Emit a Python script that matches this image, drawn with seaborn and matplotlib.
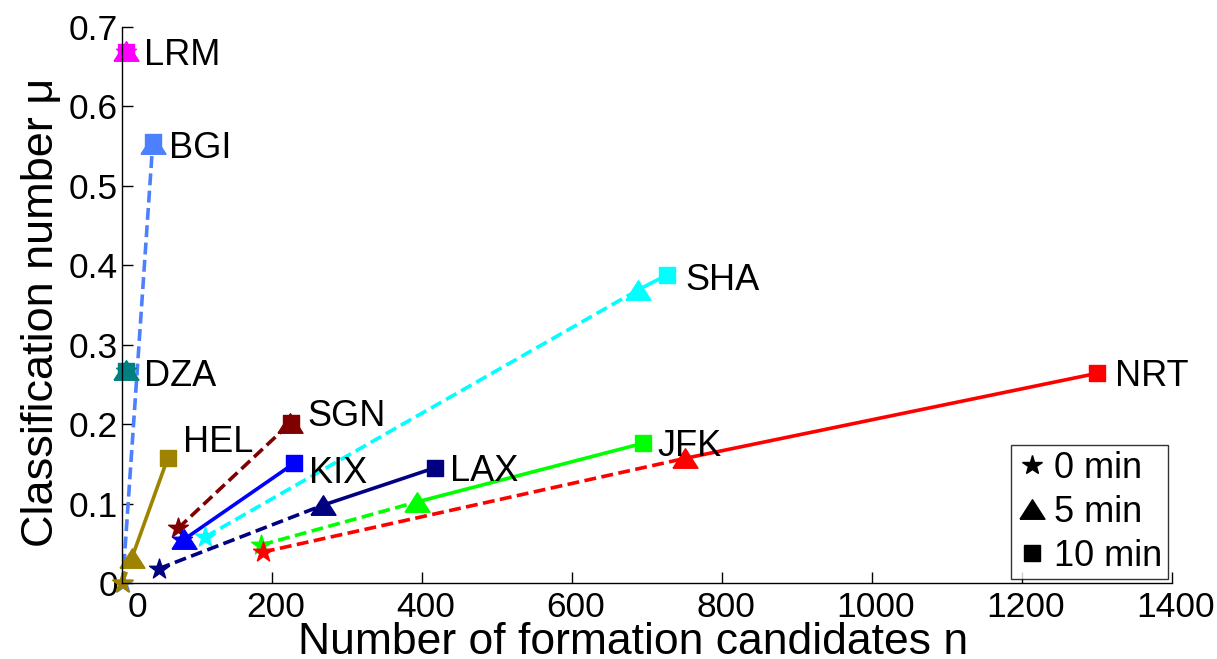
import numpy as np
import pandas as pd
import matplotlib
matplotlib.use('Agg')
import matplotlib.pyplot as plt
import matplotlib.transforms as mtransforms
from matplotlib.lines import Line2D
import seaborn as sns

# values
airports = ['LRM', 'BGI', 'DZA', 'HEL', 'SGN', 'KIX', 'SHA', 'LAX', 'JFK', 'NRT']
n_0min = [5, 1, 6, 0, 75, 80, 111, 49, 186, 188]
n_5min = [6, 41, 6, 13, 224, 83, 688, 268, 393, 751]
n_10min = [6, 41, 6, 61, 225, 230, 727, 417, 695, 1300]
mu_0min = [0.668, 0.0, 0.267, 0.0, 0.069, 0.054, 0.058, 0.018, 0.048, 0.039]
mu_5min = [0.670, 0.553, 0.268, 0.031, 0.201, 0.055, 0.369, 0.098, 0.102, 0.157]
mu_10min = [0.669, 0.555, 0.267, 0.157, 0.202, 0.151, 0.388, 0.145, 0.176, 0.264]
colors = ['#FF00FF', '#4D80FF', '#008080', '#9E8300', '#800000',
          '#0000FF', '#00FFFF', '#000080', '#00FF00', '#FF0000']
# label offsets from the 10 min point, pixels (dx, dy of the cap centre)
label_off = [(18, 0), (16, -3), (18, -2), (15, 19), (17, 10),
             (15, -7), (18, -2), (15, 0), (14, 0), (18, 0)]

rows = []
for i, a in enumerate(airports):
    rows.append((a, 0, n_0min[i], mu_0min[i]))
    rows.append((a, 5, n_5min[i], mu_5min[i]))
    rows.append((a, 10, n_10min[i], mu_10min[i]))
df = pd.DataFrame(rows, columns=['airport', 'minutes', 'n', 'mu'])

sns.set_theme(style='ticks')
plt.rcParams['font.family'] = ['Liberation Sans', 'DejaVu Sans']
plt.rcParams.update({'text.color': 'black', 'axes.labelcolor': 'black',
                     'xtick.color': 'black', 'ytick.color': 'black'})

fig, ax = plt.subplots(figsize=(12.17, 6.59), dpi=100)
fig.subplots_adjust(left=0.1002, right=0.963, bottom=0.1153, top=0.959)

# MATLAB style triangle: a bit wider than tall
tri = [(-1, -0.78), (1, -0.78), (0, 0.78), (-1, -0.78)]
lw = 2.6
markers = {0: ('*', 15), 5: (tri, 18), 10: ('s', 12)}
for i, a in enumerate(airports):
    c = colors[i]
    z = 2 + i * 0.1
    d = df[df.airport == a]
    sns.lineplot(data=d[d.minutes <= 5], x='n', y='mu', color=c, lw=lw,
                 linestyle=(0, (3.3, 1.5)), sort=False, estimator=None,
                 ax=ax, legend=False, zorder=z)
    sns.lineplot(data=d[d.minutes >= 5], x='n', y='mu', color=c, lw=lw,
                 linestyle='-', sort=False, estimator=None,
                 ax=ax, legend=False, zorder=z)
    for m, (mk, ms) in markers.items():
        p = d[d.minutes == m]
        sns.scatterplot(data=p, x='n', y='mu', marker=mk, s=ms ** 2,
                        color=c, edgecolor=c, linewidth=1, ax=ax,
                        legend=False, zorder=z + 0.05, clip_on=False)
    top = d[d.minutes == 10].iloc[0]
    dx, dy = label_off[i]
    ax.annotate(a, (top.n, top.mu), xytext=(dx, dy - 13),
                textcoords='offset pixels', fontsize=26,
                ha='left', va='baseline', color='black')

ax.set_xlim(0, 1400)
ax.set_ylim(0, 0.7)
ax.set_xticks(np.arange(0, 1401, 200))
ax.set_yticks(np.arange(0, 0.71, 0.1))
ax.set_yticklabels(['0', '0.1', '0.2', '0.3', '0.4', '0.5', '0.6', '0.7'])
ax.tick_params(direction='in', length=8, width=1, labelsize=25.5)
ax.tick_params(axis='x', pad=5.5)
ax.tick_params(axis='y', pad=3)
sns.despine(ax=ax)
for s in ['left', 'bottom']:
    ax.spines[s].set_color('black')
    ax.spines[s].set_linewidth(1)

# tick labels sit a little right of their ticks in the reference
for k, lab in enumerate(ax.get_xticklabels()):
    shift = 15 if k == 0 else 4
    lab.set_transform(lab.get_transform() +
                      mtransforms.ScaledTranslation(shift / 100, 0, fig.dpi_scale_trans))

ax.set_xlabel('Number of formation candidates n', fontsize=32)
ax.set_ylabel('Classification number \u03bc', fontsize=32.5)
ax.xaxis.set_label_coords(0.487, -0.071)
ax.yaxis.set_label_coords(-0.057, 0.487)

handles = [Line2D([], [], color='black', marker='*', ls='none', markersize=15),
           Line2D([], [], color='black', marker=tri, ls='none', markersize=18),
           Line2D([], [], color='black', marker='s', ls='none', markersize=12)]
leg = ax.legend(handles, ['0 min', '5 min', '10 min'], loc='lower right',
                bbox_to_anchor=(0.996, 0.007), borderaxespad=0, fontsize=26,
                frameon=True, fancybox=False, edgecolor='black',
                handlelength=0.9, handletextpad=0.15, borderpad=0.15,
                labelspacing=0.25)
leg.get_frame().set_linewidth(1)

fig.savefig('out.png', dpi=100)
